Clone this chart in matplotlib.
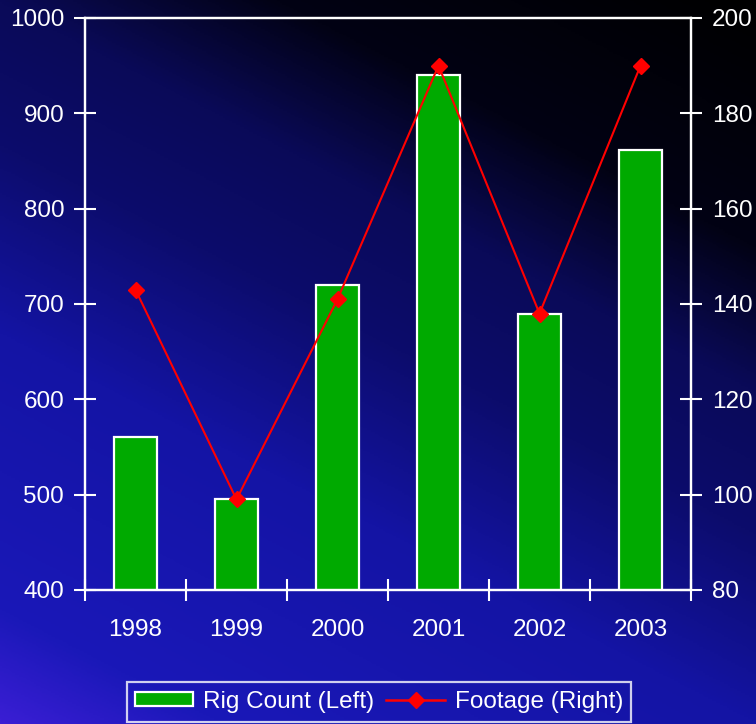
import matplotlib
matplotlib.use("Agg")
import matplotlib.pyplot as plt
import numpy as np
from matplotlib.colors import LinearSegmentedColormap
from matplotlib.lines import Line2D
from matplotlib.patches import Patch

years = ["1998", "1999", "2000", "2001", "2002", "2003"]
rig_count = [560, 495, 720, 940, 690, 862]
footage = [143, 99, 141, 190, 138, 190]

plt.rcParams['font.family'] = ['Liberation Sans', 'DejaVu Sans']

fig = plt.figure(figsize=(7.56, 7.24), dpi=100)

# background gradient
bg = fig.add_axes([0, 0, 1, 1])
bg.set_axis_off()
nx, ny = 400, 400
xx, yy = np.meshgrid(np.linspace(0, 1, nx), np.linspace(0, 1, ny))
t = 0.35 * xx + 0.65 * yy
cmap = LinearSegmentedColormap.from_list("bg", [
    (0.0, "#3a1ed4"), (0.1, "#1a18b8"), (0.35, "#1414a4"),
    (0.52, "#0c0c6c"), (0.65, "#0a0a58"), (0.78, "#020214"), (1.0, "#000000")])
bg.imshow(t, cmap=cmap, origin="lower", extent=[0, 1, 0, 1], aspect="auto", vmin=0, vmax=1)
bg.set_xlim(0, 1)
bg.set_ylim(0, 1)

FS = 17.5

ax = fig.add_axes([85/756, 1-590/724, (691-85)/756, (590-18)/724])
ax.set_facecolor("none")
x = np.arange(len(years))
ax.bar(x, rig_count, width=0.42, color="#00aa00", edgecolor="white", linewidth=1.6, zorder=2)
ax.set_ylim(400, 1000)
ax.set_xlim(-0.5, len(years) - 0.5)
ax.set_yticks(np.arange(400, 1001, 100))
ax.set_xticks(x)
ax.set_xticklabels(years)
ax.set_xticks(np.arange(-0.5, len(years), 1.0), minor=True)
ax.tick_params(axis="x", which="major", length=0, pad=21, labelsize=FS, colors="white")
ax.tick_params(axis="x", which="minor", direction="inout", length=16, width=1.5, color="white")
ax.tick_params(axis="y", direction="inout", length=16, width=1.5, color="white",
               labelcolor="white", labelsize=FS, pad=7)
for s in ax.spines.values():
    s.set_color("white")
    s.set_linewidth(1.6)

ax2 = ax.twinx()
ax2.plot(x, footage, color="#ff0000", lw=1.5, marker="D", markersize=8, zorder=3)
ax2.set_ylim(80, 200)
ax2.set_yticks(np.arange(80, 201, 20))
ax2.tick_params(axis="y", direction="inout", length=16, width=1.5, color="white",
                labelcolor="white", labelsize=FS, pad=7)
for s in ax2.spines.values():
    s.set_color("white")
    s.set_linewidth(1.6)

handles = [Patch(facecolor="#00aa00", edgecolor="white", linewidth=1.6, label="Rig Count (Left)"),
           Line2D([0], [0], color="#ff0000", lw=1.8, marker="D", markersize=8, label="Footage (Right)")]
leg = fig.legend(handles=handles, loc="center", bbox_to_anchor=(379/756, 1-702/724), ncol=2,
                 frameon=True, fontsize=FS, fancybox=False, labelcolor="white",
                 handlelength=2.4, handleheight=0.5, handletextpad=0.4,
                 columnspacing=0.5, borderpad=0.35)
leg.get_frame().set_facecolor("none")
leg.get_frame().set_edgecolor("white")
leg.get_frame().set_linewidth(1.6)

fig.savefig("out.png", dpi=100)
